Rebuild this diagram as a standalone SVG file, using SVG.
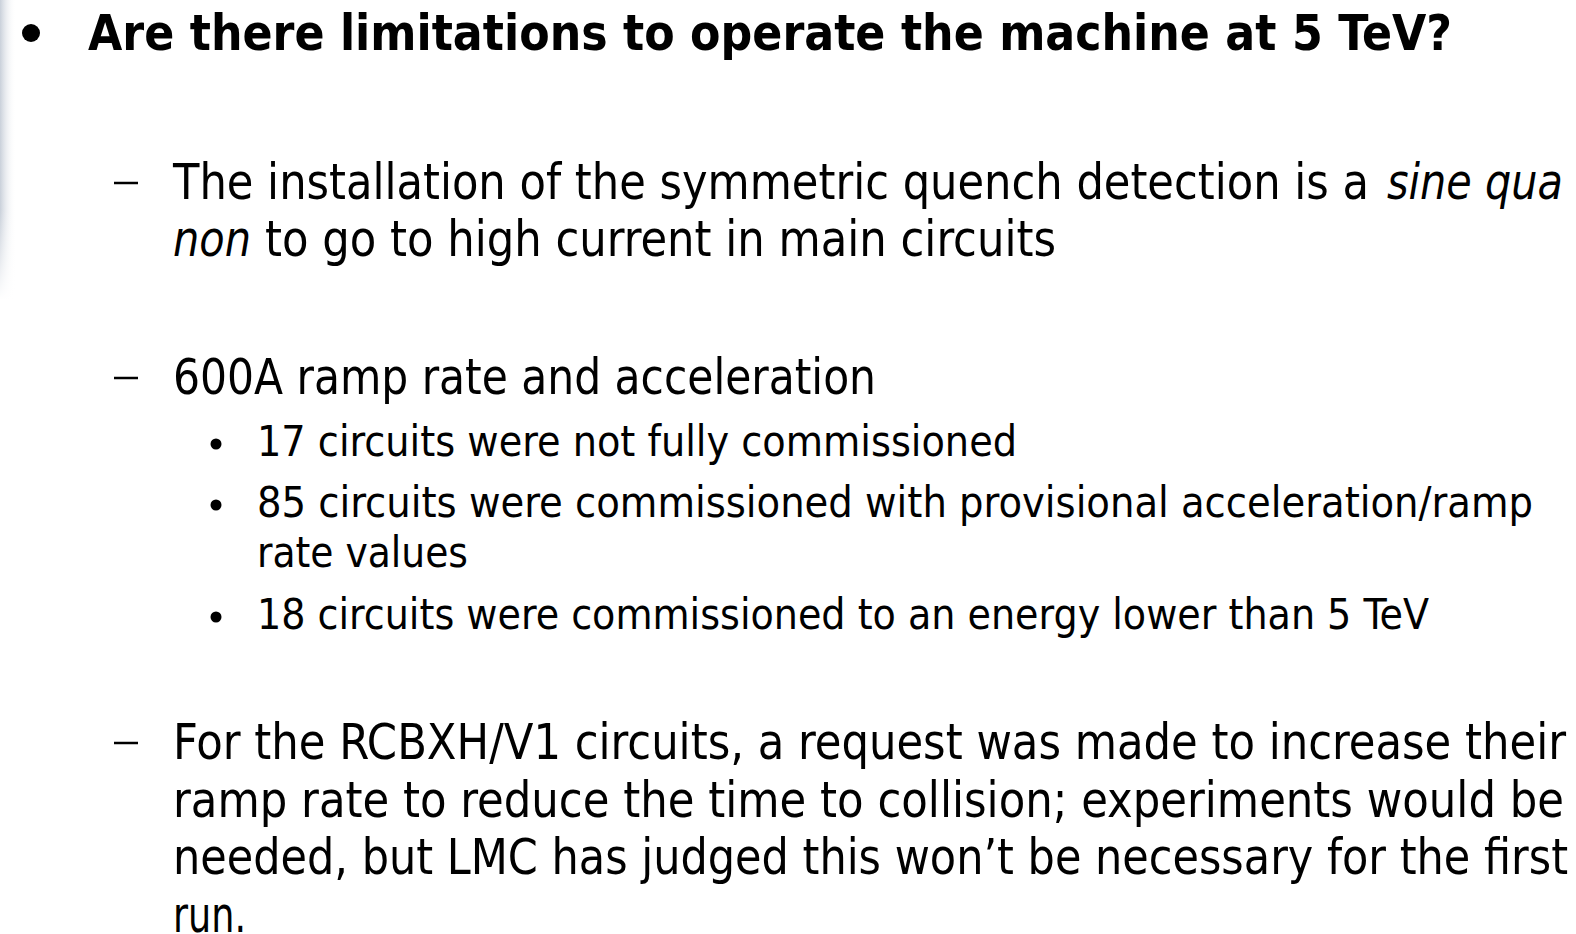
<svg xmlns="http://www.w3.org/2000/svg" width="1576" height="934" viewBox="0 0 1576 934">
<style>
.t{font-family:"DejaVu Sans","Liberation Sans",sans-serif;font-stretch:condensed;fill:#000}
.h{font-size:50px;font-weight:bold}
.l2{font-size:49px}
.l3{font-size:43px}
.i{font-style:italic}
.d{stroke:#000;stroke-width:2.5}
</style>
<defs>
<linearGradient id="edge" x1="0" y1="0" x2="1" y2="0">
<stop offset="0" stop-color="#c9d0da"/>
<stop offset="1" stop-color="#ffffff" stop-opacity="0"/>
</linearGradient>
<linearGradient id="fade" x1="0" y1="0" x2="0" y2="1">
<stop offset="0" stop-color="#fff" stop-opacity="0"/>
<stop offset="0.7" stop-color="#fff" stop-opacity="0"/>
<stop offset="1" stop-color="#fff" stop-opacity="1"/>
</linearGradient>
</defs>
<rect width="1576" height="934" fill="#fff"/>
<rect x="0" y="0" width="16" height="300" fill="url(#edge)"/>
<rect x="0" y="0" width="16" height="300" fill="url(#fade)"/>
<g id="title">
<circle cx="31" cy="33" r="9" fill="#000"/>
<text class="t h" x="88" y="50" textLength="1364" lengthAdjust="spacingAndGlyphs">Are there limitations to operate the machine at 5 TeV?</text>
</g>
<g id="item1">
<line class="d" x1="114" y1="183" x2="138" y2="183"/>
<text class="t l2" x="173" y="199" textLength="1196" lengthAdjust="spacingAndGlyphs">The installation of the symmetric quench detection is a</text>
<text class="t l2 i" x="1387" y="199" textLength="176" lengthAdjust="spacingAndGlyphs">sine qua</text>
<text class="t l2 i" x="173" y="256" textLength="78" lengthAdjust="spacingAndGlyphs">non</text>
<text class="t l2" x="265" y="256" textLength="791" lengthAdjust="spacingAndGlyphs">to go to high current in main circuits</text>
</g>
<g id="item2">
<line class="d" x1="114" y1="378" x2="138" y2="378"/>
<text class="t l2" x="173" y="394" textLength="703" lengthAdjust="spacingAndGlyphs">600A ramp rate and acceleration</text>
<circle cx="216" cy="444" r="5.5" fill="#000"/>
<text class="t l3" x="257" y="456" textLength="760" lengthAdjust="spacingAndGlyphs">17 circuits were not fully commissioned</text>
<circle cx="216" cy="505" r="5.5" fill="#000"/>
<text class="t l3" x="257" y="517" textLength="1276" lengthAdjust="spacingAndGlyphs">85 circuits were commissioned with provisional acceleration/ramp</text>
<text class="t l3" x="257" y="567" textLength="211" lengthAdjust="spacingAndGlyphs">rate values</text>
<circle cx="216" cy="617" r="5.5" fill="#000"/>
<text class="t l3" x="257" y="629" textLength="1172" lengthAdjust="spacingAndGlyphs">18 circuits were commissioned to an energy lower than 5 TeV</text>
</g>
<g id="item3">
<line class="d" x1="114" y1="743" x2="138" y2="743"/>
<text class="t l2" x="173" y="759" textLength="1393" lengthAdjust="spacingAndGlyphs">For the RCBXH/V1 circuits, a request was made to increase their</text>
<text class="t l2" x="173" y="817" textLength="1391" lengthAdjust="spacingAndGlyphs">ramp rate to reduce the time to collision; experiments would be</text>
<text class="t l2" x="173" y="874" textLength="1395" lengthAdjust="spacingAndGlyphs">needed, but LMC has judged this won’t be necessary for the first</text>
<text class="t l2" x="173" y="932" textLength="73" lengthAdjust="spacingAndGlyphs">run.</text>
</g>
</svg>
